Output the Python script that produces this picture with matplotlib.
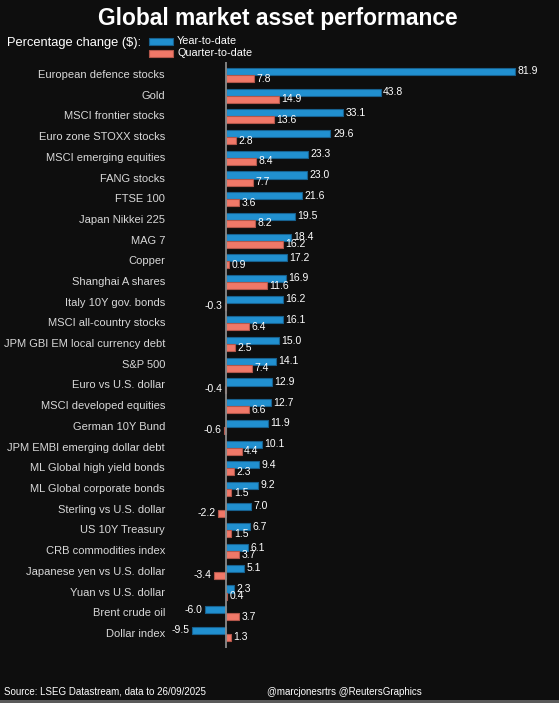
import matplotlib.pyplot as plt
from matplotlib.patches import Rectangle
import numpy as np

plt.rcParams['font.family'] = ['Liberation Sans', 'DejaVu Sans']

categories = [
    'European defence stocks', 'Gold', 'MSCI frontier stocks', 'Euro zone STOXX stocks',
    'MSCI emerging equities', 'FANG stocks', 'FTSE 100', 'Japan Nikkei 225', 'MAG 7',
    'Copper', 'Shanghai A shares', 'Italy 10Y gov. bonds', 'MSCI all-country stocks',
    'JPM GBI EM local currency debt', 'S&P 500', 'Euro vs U.S. dollar',
    'MSCI developed equities', 'German 10Y Bund', 'JPM EMBI emerging dollar debt',
    'ML Global high yield bonds', 'ML Global corporate bonds', 'Sterling vs U.S. dollar',
    'US 10Y Treasury', 'CRB commodities index', 'Japanese yen vs U.S. dollar',
    'Yuan vs U.S. dollar', 'Brent crude oil', 'Dollar index',
]
ytd = [81.9, 43.8, 33.1, 29.6, 23.3, 23.0, 21.6, 19.5, 18.4, 17.2, 16.9, 16.2, 16.1,
       15.0, 14.1, 12.9, 12.7, 11.9, 10.1, 9.4, 9.2, 7.0, 6.7, 6.1, 5.1, 2.3, -6.0, -9.5]
qtd = [7.8, 14.9, 13.6, 2.8, 8.4, 7.7, 3.6, 8.2, 16.2, 0.9, 11.6, -0.3, 6.4,
       2.5, 7.4, -0.4, 6.6, -0.6, 4.4, 2.3, 1.5, -2.2, 1.5, 3.7, -3.4, 0.4, 3.7, 1.3]

bg = '#0e0e0e'
blue = '#2190d0'
salmon = '#f07868'

W, H = 559, 703
fig = plt.figure(figsize=(W / 100, H / 100), dpi=100, facecolor=bg)

# axes placed in pixel terms: zero line at x=226, 3.53 px per unit
ax_l, ax_r = 150, 548
ax_t, ax_b = 62, 648
ppu = 3.53
x0 = 226
ax = fig.add_axes([ax_l / W, 1 - ax_b / H, (ax_r - ax_l) / W, (ax_b - ax_t) / H])
ax.set_facecolor(bg)
ax.patch.set_alpha(0)

n = len(categories)
row = 20.7
y = np.arange(n)
ax.set_xlim(-(x0 - ax_l) / ppu, (ax_r - x0) / ppu)
ax.set_ylim(n - 1 + (ax_b - (75 + row * (n - 1))) / row, -(75 - ax_t) / row)

h = 0.34
ax.barh(y - h / 2, ytd, height=h, color=blue, edgecolor='#17618f', linewidth=0.8)
ax.barh(y + h / 2, qtd, height=h, color=salmon, edgecolor='#b3574b', linewidth=0.8)
ax.axvline(0, color='#8a8a8a', lw=1.3)

for i in range(n):
    for val, yy in ((ytd[i], i - h / 2), (qtd[i], i + h / 2)):
        if val >= 0:
            ax.text(val + 0.7, yy, f'{val:.1f}', color='white', fontsize=7.5,
                    va='center', ha='left')
        else:
            ax.text(val - 0.7, yy, f'{val:.1f}', color='white', fontsize=7.5,
                    va='center', ha='right')

for s in ax.spines.values():
    s.set_visible(False)
ax.set_xticks([])
ax.set_yticks([])

# category labels
for i, c in enumerate(categories):
    fig.text(165 / W, 1 - (75 + row * i) / H, c, color='#d8d8d8', fontsize=8.0,
             ha='right', va='center')

fig.text(278 / W, 1 - 18 / H, 'Global market asset performance', color='white',
         fontsize=16.4, fontweight='bold', ha='center', va='center')
fig.text(7 / W, 1 - 43 / H, 'Percentage change ($):', color='white', fontsize=9.3,
         ha='left', va='center')

# legend
fig.add_artist(Rectangle((149 / W, 1 - 45 / H), 24 / W, 7 / H, transform=fig.transFigure,
                         facecolor=blue, edgecolor='#17618f', lw=0.8))
fig.add_artist(Rectangle((149 / W, 1 - 57 / H), 24 / W, 7 / H, transform=fig.transFigure,
                         facecolor=salmon, edgecolor='#b3574b', lw=0.8))
fig.text(177 / W, 1 - 41 / H, 'Year-to-date', color='white', fontsize=7.8,
         ha='left', va='center')
fig.text(177 / W, 1 - 53 / H, 'Quarter-to-date', color='white', fontsize=7.8,
         ha='left', va='center')

fig.text(4 / W, 1 - 692 / H, 'Source: LSEG Datastream, data to 26/09/2025', color='white',
         fontsize=7, ha='left', va='center')
fig.text(267 / W, 1 - 692 / H, '@marcjonesrtrs @ReutersGraphics', color='white',
         fontsize=7, ha='left', va='center')

# bottom grey strip
fig.add_artist(Rectangle((0, 0), 1, 3 / H, transform=fig.transFigure,
                         facecolor='#5a5a5a', edgecolor='none'))

fig.savefig('out.png', dpi=100, facecolor=bg)
